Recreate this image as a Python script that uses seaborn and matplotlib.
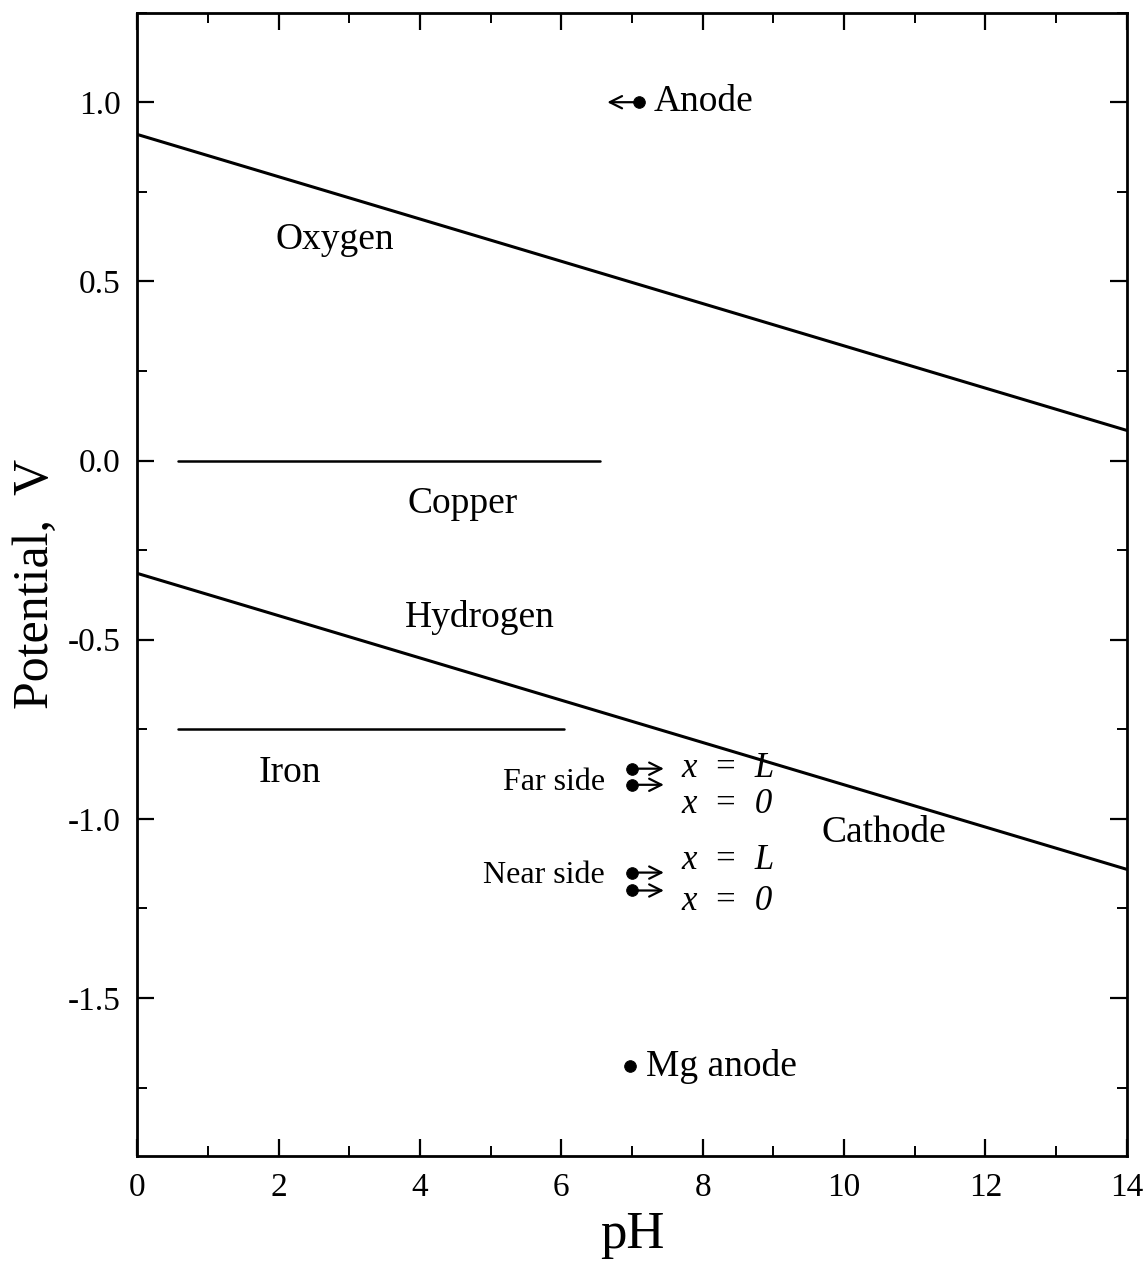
import numpy as np
import pandas as pd
import matplotlib
matplotlib.use("Agg")
import matplotlib.pyplot as plt
from matplotlib.ticker import MultipleLocator
import seaborn as sns

# ---- data ----
ph_range = [0.0, 14.0]
oxygen_v = [0.91, 0.084]
hydrogen_v = [-0.315, -1.141]
copper_ph = [0.57, 6.55]
copper_v = [0.0, 0.0]
iron_ph = [0.57, 6.04]
iron_v = [-0.75, -0.75]

point_names = ["Anode", "Far L", "Far 0", "Near L", "Near 0", "Mg anode"]
point_ph = [7.1, 7.0, 7.0, 7.0, 7.0, 6.97]
point_v = [1.0, -0.86, -0.905, -1.15, -1.20, -1.69]
point_dir = [-1, 1, 1, 1, 1, 0]   # arrow direction (left / right / none)

region_labels = ["Oxygen", "Copper", "Hydrogen", "Iron", "Cathode"]
region_ph = [2.8, 4.6, 4.85, 2.16, 10.56]
region_v = [0.615, -0.12, -0.437, -0.87, -1.04]

x_ticks = [0, 2, 4, 6, 8, 10, 12, 14]
y_ticks = [-1.5, -1.0, -0.5, 0.0, 0.5, 1.0]

# ---- style ----
sns.set_theme(style="ticks")
plt.rcParams["font.family"] = ["Liberation Serif", "DejaVu Serif"]
plt.rcParams["text.color"] = "black"
plt.rcParams["axes.labelcolor"] = "black"
plt.rcParams["xtick.color"] = "black"
plt.rcParams["ytick.color"] = "black"

fig = plt.figure(figsize=(11.44, 12.63), dpi=100)
ax = fig.add_axes([0.12, 0.085, 0.865, 0.905])

lw = 2.2
sns.lineplot(x=ph_range, y=oxygen_v, ax=ax, color="black", lw=lw)
sns.lineplot(x=ph_range, y=hydrogen_v, ax=ax, color="black", lw=lw)
sns.lineplot(x=copper_ph, y=copper_v, ax=ax, color="black", lw=1.8)
sns.lineplot(x=iron_ph, y=iron_v, ax=ax, color="black", lw=1.8)

pts = pd.DataFrame({"name": point_names, "ph": point_ph, "v": point_v, "dir": point_dir})
sns.scatterplot(data=pts, x="ph", y="v", ax=ax, color="black", s=70, edgecolor="black", zorder=5, legend=False)

arrow_len = 0.45
for _, r in pts.iterrows():
    if r["dir"] != 0:
        ax.annotate("", xy=(r["ph"] + r["dir"] * arrow_len, r["v"]), xytext=(r["ph"], r["v"]),
                    arrowprops=dict(arrowstyle="->", color="black", lw=1.6, mutation_scale=22,
                                    shrinkA=0, shrinkB=0))

for lab, x, y in zip(region_labels, region_ph, region_v):
    ax.text(x, y, lab, fontsize=27, ha="center", va="center", color="black")

# point annotations
ax.text(7.3, 1.0, "Anode", fontsize=27, ha="left", va="center")
ax.text(7.2, -1.69, "Mg anode", fontsize=27, ha="left", va="center")
ax.text(6.62, -0.898, "Far side", fontsize=23, ha="right", va="center")
ax.text(6.62, -1.157, "Near side", fontsize=23, ha="right", va="center")
for y, s in [(-0.86, "x  =  L"), (-0.96, "x  =  0"),
             (-1.115, "x  =  L"), (-1.232, "x  =  0")]:
    ax.text(7.7, y, s, fontsize=25, ha="left", va="center", fontstyle="italic")

ax.set_xlim(0, 14)
ax.set_ylim(-1.94, 1.25)
ax.set_xticks(x_ticks)
ax.set_xticklabels([str(t) for t in x_ticks])
ax.set_yticks(y_ticks)
ax.set_yticklabels([f"{t:.1f}" for t in y_ticks])
ax.xaxis.set_minor_locator(MultipleLocator(1))
ax.yaxis.set_minor_locator(MultipleLocator(0.25))
ax.tick_params(which="both", direction="in", top=True, right=True, labelsize=24, colors="black")
ax.tick_params(which="major", length=12, width=1.6, pad=12)
ax.tick_params(which="minor", length=7, width=1.4)
for s in ax.spines.values():
    s.set_visible(True)
    s.set_linewidth(2.0)
    s.set_color("black")

ax.set_xlabel("pH", fontsize=38, labelpad=6)
ax.set_ylabel("Potential,  V", fontsize=36, labelpad=6)

fig.savefig("out.png", dpi=100, facecolor="white")
